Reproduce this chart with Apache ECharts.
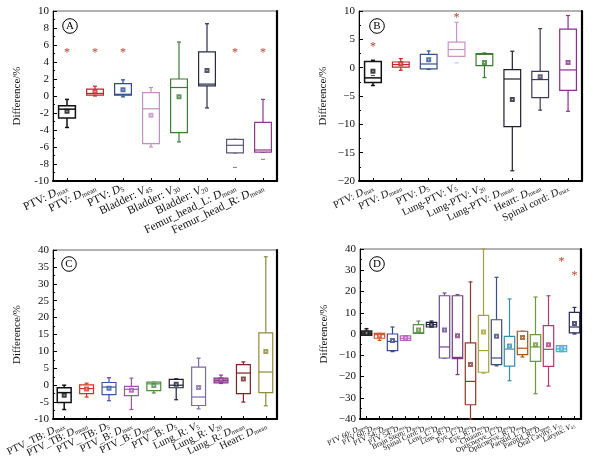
<!DOCTYPE html>
<html><head><meta charset="utf-8">
<script src="https://cdn.jsdelivr.net/npm/echarts@6/dist/echarts.min.js"></script>
<style>html,body{margin:0;padding:0;background:#fff}#c{width:594px;height:470px}</style>
</head><body><div id="c"></div>
<script>
// ---------- Panel A ----------
const A_cats = ['PTV: |D|max','PTV: |D|mean','PTV: |D|5','Bladder: |V|45','Bladder: |V|30','Bladder: |V|20','Femur_head_L: |D|mean','Femur_head_R: |D|mean'];
// [lower whisker, Q1, median, Q3, upper whisker]
const A_box = [
  [-3.7,-2.6,-1.55,-1.15,-0.4],
  [0.0,0.1,0.3,0.8,1.15],
  [-0.1,0.1,0.2,1.45,1.9],
  [-6.0,-5.6,-1.5,0.4,1.0],
  [-5.4,-4.3,1.0,2.0,6.35],
  [-1.4,1.2,1.4,5.2,8.5],
  [-6.7,-6.7,-5.8,-5.1,-5.1],
  [-6.6,-6.6,-6.35,-3.1,-0.4]
];
const A_mean = [-1.8,0.5,0.75,-2.25,-0.1,3.0,null,null];
const A_out = [[6,-8.4],[7,-7.45]];
const A_star = [[0,5.3],[1,5.3],[2,5.3],[6,5.3],[7,5.3]];
const A_ticks = [-10,10,2];

// ---------- Panel B ----------
const B_cats = ['PTV: |D|max','PTV: |D|mean','PTV: |D|5','Lung-PTV: |V|5','Lung-PTV: |V|20','Lung-PTV: |D|mean','Heart: |D|mean','Spinal cord: |D|max'];
const B_box = [
  [-3.15,-2.6,-1.8,1.1,1.3],
  [-0.45,0.1,0.55,1.0,1.6],
  [-0.3,-0.2,0.65,2.35,2.95],
  [2.0,2.0,3.2,4.5,8.0],
  [-1.75,0.35,2.35,2.5,2.6],
  [-18.2,-10.4,-2.0,-0.35,2.9],
  [-7.5,-5.3,-2.1,-0.65,6.9],
  [-7.7,-4.0,-0.4,6.8,9.2]
];
const B_mean = [-0.65,0.7,1.4,null,0.9,-5.6,-1.6,0.9];
const B_out = [[0,-1.4],[3,0.84]];
const B_star = [[0,4.0],[3,9.1]];
const B_ticks = [-20,10,5];

// ---------- Panel C ----------
const C_cats = ['PTV_TB: |D|max','PTV_TB: |D|mean','PTV_ TB: |D|5','PTV_B: |D|max','PTV_B: |D|mean','PTV_B: |D|5','Lung_R: |V|5','Lung_R: |V|20','Lung_R: |D|mean','Heart: |D|mean'];
const C_box = [
  [-7.2,-5.1,-2.2,-0.75,0.0],
  [-3.5,-2.5,-1.0,0.1,0.6],
  [-4.6,-2.8,-0.55,0.8,2.2],
  [-7.2,-3.1,-1.2,-0.35,2.1],
  [-2.3,-1.6,0.4,0.9,0.9],
  [-4.3,-0.75,0.0,1.7,1.9],
  [-7.0,-6.0,-3.5,5.35,8.0],
  [0.5,0.7,1.4,2.1,3.0],
  [-5.0,-2.5,3.6,6.1,6.9],
  [-6.1,-2.2,3.9,15.5,38.0]
];
const C_mean = [-3.0,-1.1,-0.9,-1.5,-0.1,0.3,-0.65,1.6,1.8,10.0];
const C_out = [];
const C_star = [];
const C_ticks = [-10,40,5];

// ---------- Panel D ----------
const D_cats = ['PTV 60: |D|mean','PTV 60: |D|max','PTV 54: |D|mean','PTV 54: |D|max','Brain Stem: |D|max','Spinal Cord: |D|max','Lens_L: |D|max','Lens_R: |D|max','Eye_L: |D|max','Eye_R: |D|max','Chiasm: |D|max','Opticnerve_L: |D|max','Opticnerve_R: |D|max','Parotid_L: |D|mean','Parotid_R: |D|mean','Oral Cavity: |V|35','Larynx: |V|45'];
const D_box = [
  [-0.6,-0.6,0.3,1.4,2.5],
  [-3.0,-2.0,-0.3,0.3,0.3],
  [-8.3,-7.8,-3.5,0.0,3.3],
  [-3.0,-3.0,-2.0,-0.9,-0.9],
  [0.3,0.3,0.6,4.4,6.1],
  [3.3,3.3,4.4,5.5,6.1],
  [-11.3,-11.3,-6.1,18.0,19.3],
  [-19.1,-11.6,-11.0,18.0,18.5],
  [-40,-33.3,-22.3,-4.2,24.5],
  [-18.4,-18.0,-7.8,8.8,40],
  [-15.0,-14.4,-11.3,6.7,26.7],
  [-22.0,-15.1,-7.1,-1.1,16.5],
  [-10.8,-9.7,-6.7,1.3,1.3],
  [-28.1,-12.9,-6.1,-0.3,17.4],
  [-24.5,-15.2,-7.2,3.9,18.0],
  [-8.3,-8.3,-7.0,-5.5,-5.5],
  [0.0,0.5,3.3,10.2,12.5]
];
const D_mean = [0.5,-0.8,-3.0,-1.8,1.9,4.4,1.9,-0.8,-14.4,0.9,-1.1,-5.6,-1.6,-5.0,-5.0,-6.9,5.0];
const D_out = [];
const D_star = [[15,34.8],[16,28.5]];
const D_ticks = [-40,40,10];

const FONT = 'Liberation Serif';
const STAR = '#b5402a';

const panels = [
  {letter:'A', cats:A_cats, box:A_box, mean:A_mean, out:A_out, star:A_star, ticks:A_ticks,
   grid:{left:53, top:11, width:224, height:170}, ratio:0.6, fs:11.5, minus:'-',
   colors:['#111111','#c0262d','#2c4a8c','#c08fc4','#3f7a3a','#2a2a48','#5c5878','#8a3a86'], fills:{},
   circle:[70,26]},
  {letter:'B', cats:B_cats, box:B_box, mean:B_mean, out:B_out, star:B_star, ticks:B_ticks,
   grid:{left:359, top:11, width:223, height:170}, ratio:0.6, fs:10.5, minus:'\u2212',
   colors:['#111111','#c0262d','#33508f','#c893c8','#3b7a2e','#1e1e30','#3f3a5e','#8a2f8f'], fills:{},
   circle:[377,26]},
  {letter:'C', cats:C_cats, box:C_box, mean:C_mean, out:C_out, star:C_star, ticks:C_ticks,
   grid:{left:53, top:250, width:224, height:169}, ratio:0.62, fs:10.5, minus:'-',
   colors:['#111111','#d2321e','#3a58a0','#9a5aa6','#4f8c3e','#1e1e30','#7a6aa8','#8a3c8e','#7a2424','#8f8a3c'], fills:{7:'#c47cc4'},
   circle:[69,264]},
  {letter:'D', cats:D_cats, box:D_box, mean:D_mean, out:D_out, star:D_star, ticks:D_ticks,
   grid:{left:360, top:249, width:221, height:170}, ratio:0.8, fs:7.5, minus:'\u2212',
   colors:['#222222','#d0552e','#3a4a8a','#b463b4','#5e8c4a','#1e1e40','#6a4a8e','#7a3a7e','#8a3a2a','#a8a040','#3e4c7e','#3a8cac','#a05420','#6a9a3a','#b23a72','#48b4d0','#2a2a5a'],
   fills:{0:'#555555',15:'#c4ecf4'},
   circle:[377,264]}
];

const grids=[], xAxes=[], yAxes=[], series=[], graphics=[];

panels.forEach((p,k)=>{
  grids.push(Object.assign({show:true, borderColor:'#666', borderWidth:1, backgroundColor:'transparent'}, p.grid));
  const fs = p.fs;
  xAxes.push({
    type:'category', gridIndex:k, data:p.cats, boundaryGap:true, position:'bottom',
    axisLine:{onZero:false, lineStyle:{color:'#000', width:2.2}},
    axisTick:{show:true, inside:true, alignWithLabel:true, length:3, lineStyle:{color:'#000', width:1}},
    splitLine:{show:false},
    axisLabel:{
      interval:0, rotate:26, margin:6, color:'#111',
      formatter:(v)=>{const s=v.split('|'); return '{n|'+s[0]+'}{i|'+s[1]+'}{s|'+s[2]+'}';},
      rich:{
        n:{fontFamily:FONT, fontSize:fs, color:'#111'},
        i:{fontFamily:FONT, fontSize:fs, fontStyle:'italic', color:'#111'},
        s:{fontFamily:FONT, fontSize:fs*0.62, color:'#111', padding:[fs*0.45,0,0,0]}
      }
    }
  });
  const [mn,mx,iv] = p.ticks;
  yAxes.push({
    type:'value', gridIndex:k, min:mn, max:mx, interval:iv, position:'left',
    name:'Difference/%', nameLocation:'middle', nameGap:30, nameRotate:90,
    nameTextStyle:{fontFamily:FONT, fontSize:11, color:'#111'},
    axisLine:{show:true, onZero:false, lineStyle:{color:'#000', width:1}},
    axisTick:{show:true, inside:true, length:4, lineStyle:{color:'#000'}},
    minorTick:{show:true, splitNumber:2, length:2, lineStyle:{color:'#000'}},
    splitLine:{show:false},
    axisLabel:{fontFamily:FONT, fontSize:11, color:'#111', margin:4,
      formatter:(v)=>String(v).replace('-', p.minus)}
  });
  yAxes.push({
    type:'value', gridIndex:k, min:mn, max:mx, interval:iv, position:'right',
    axisLine:{show:true, onZero:false, lineStyle:{color:'#000', width:2.2}},
    axisTick:{show:false}, axisLabel:{show:false}, splitLine:{show:false}
  });
  const yi = 2*k;
  const colors = p.colors, fills = p.fills, ratio = p.ratio;
  series.push({
    type:'custom', xAxisIndex:k, yAxisIndex:yi,
    encode:{x:0, y:[1,2,3,4,5]},
    data:p.box.map((b,i)=>[i].concat(b)),
    renderItem:(params, api)=>{
      const i = api.value(0);
      const c = colors[i];
      const lo = api.coord([i, api.value(1)]);
      const q1 = api.coord([i, api.value(2)]);
      const md = api.coord([i, api.value(3)]);
      const q3 = api.coord([i, api.value(4)]);
      const hi = api.coord([i, api.value(5)]);
      const band = api.size([1,0])[0];
      const w = band*ratio, cap = Math.min(4, w*0.4);
      const x = md[0];
      const lw = (c==='#111111'||c==='#222222') ? 1.5 : 1.2;
      const st = {stroke:c, lineWidth:lw};
      return {type:'group', children:[
        {type:'line', shape:{x1:x,y1:q3[1],x2:x,y2:hi[1]}, style:st},
        {type:'line', shape:{x1:x,y1:q1[1],x2:x,y2:lo[1]}, style:st},
        {type:'line', shape:{x1:x-cap/2,y1:hi[1],x2:x+cap/2,y2:hi[1]}, style:st},
        {type:'line', shape:{x1:x-cap/2,y1:lo[1],x2:x+cap/2,y2:lo[1]}, style:st},
        {type:'rect', shape:{x:x-w/2, y:q3[1], width:w, height:Math.max(1,q1[1]-q3[1])},
          style:{fill:fills[i]||'#ffffff', stroke:c, lineWidth:lw}},
        {type:'line', shape:{x1:x-w/2,y1:md[1],x2:x+w/2,y2:md[1]}, style:st}
      ]};
    },
    z:2
  });
  series.push({
    type:'scatter', xAxisIndex:k, yAxisIndex:yi, symbol:'emptyRect', symbolSize:3,
    data:p.mean.map((v,i)=>v==null?null:{value:[i,v], itemStyle:{color:colors[i], borderWidth:0.6, opacity:0.8}}).filter(d=>d),
    z:3, silent:true
  });
  if (p.out.length) series.push({
    type:'scatter', xAxisIndex:k, yAxisIndex:yi, symbol:'rect', symbolSize:[4,1],
    data:p.out.map(d=>({value:d, itemStyle:{color:colors[d[0]]}})),
    z:3, silent:true
  });
  if (p.star.length) series.push({
    type:'custom', xAxisIndex:k, yAxisIndex:yi, encode:{x:0,y:1},
    data:p.star,
    renderItem:(params, api)=>{
      const pt = api.coord([api.value(0), api.value(1)]);
      return {type:'text', x:pt[0], y:pt[1]+2, style:{text:'*', fill:STAR, font:'12px '+FONT, align:'center', verticalAlign:'middle'}};
    },
    z:4
  });
  graphics.push({type:'circle', shape:{cx:p.circle[0], cy:p.circle[1], r:7.3}, style:{fill:'#fff', stroke:'#000', lineWidth:1}, z:10});
  graphics.push({type:'text', x:p.circle[0], y:p.circle[1]+0.5, style:{text:p.letter, font:'11px '+FONT, fill:'#000', align:'center', verticalAlign:'middle'}, z:11});
});

const chart = echarts.init(document.getElementById('c'), null, {renderer:'canvas'});
chart.setOption({
  animation:false,
  backgroundColor:'#ffffff',
  grid:grids, xAxis:xAxes, yAxis:yAxes, series:series,
  graphic:graphics
});
</script></body></html>
